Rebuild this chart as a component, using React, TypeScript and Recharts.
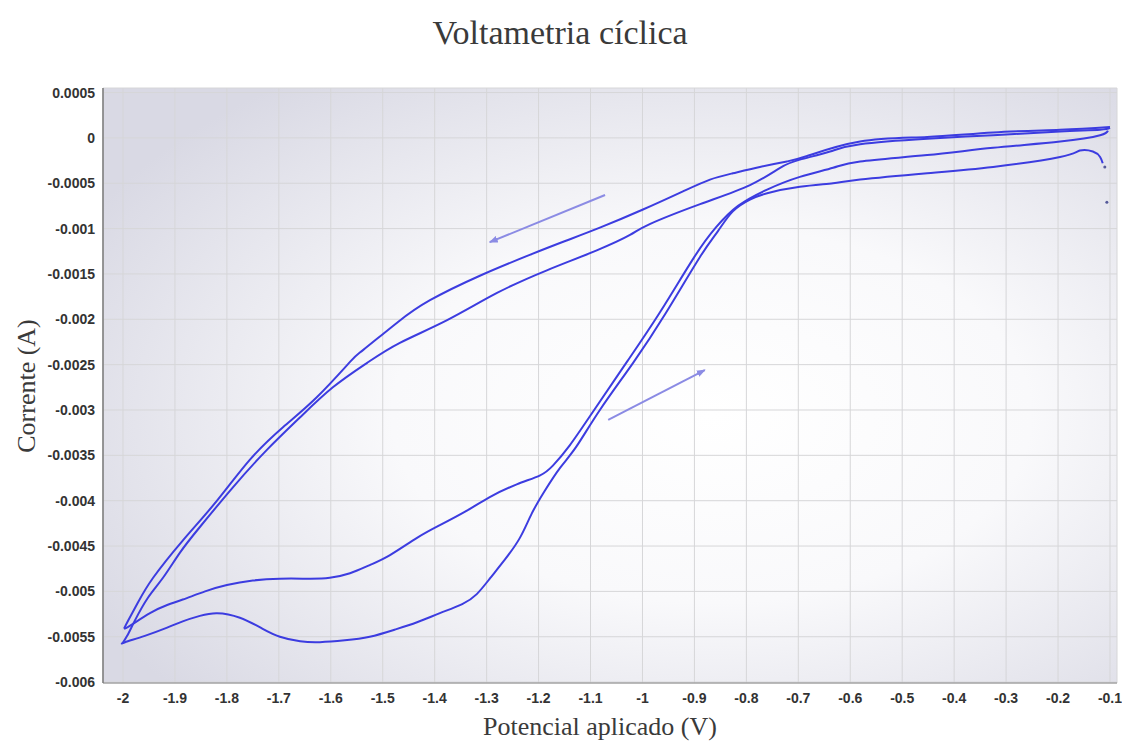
import { LineChart, Line, XAxis, YAxis, CartesianGrid, ReferenceLine } from 'recharts';

const FONT_TICK = "'Liberation Sans', Arial, sans-serif";
const FONT_SERIF = "'Liberation Serif', 'Times New Roman', serif";
const CURVE = '#3c3ce0';
const ARROW = '#8b8be4';

const X_DOMAIN: [number, number] = [-2.0385, -0.0865];
const Y_DOMAIN: [number, number] = [-0.00601, 0.00055];

const xTicks = [-2, -1.9, -1.8, -1.7, -1.6, -1.5, -1.4, -1.3, -1.2, -1.1, -1, -0.9, -0.8, -0.7, -0.6, -0.5, -0.4, -0.3, -0.2, -0.1];
const yTicks = [0.0005, 0, -0.0005, -0.001, -0.0015, -0.002, -0.0025, -0.003, -0.0035, -0.004, -0.0045, -0.005, -0.0055, -0.006];

// minor tick marks only (axis decoration)
const xMinorTicks = Array.from({ length: 195 }, (_, k) => Math.round((-2.03 + k * 0.01) * 100) / 100);
const yMinorTicks = Array.from({ length: 66 }, (_, k) => Math.round((-0.006 + k * 0.0001) * 1e5) / 1e5);

// cycle 1, sweep towards -2 V (lower path, big reduction wave)
const cycle1Forward = [
  { v: -0.114, i: -0.00028 }, { v: -0.119, i: -0.00021 }, { v: -0.133, i: -0.00015 }, { v: -0.158, i: -0.00014 },
  { v: -0.196, i: -0.00021 }, { v: -0.325, i: -0.00032 }, { v: -0.452, i: -0.00039 }, { v: -0.581, i: -0.00046 },
  { v: -0.633, i: -0.0005 }, { v: -0.697, i: -0.00054 }, { v: -0.76, i: -0.00061 }, { v: -0.793, i: -0.00068 },
  { v: -0.826, i: -0.00081 }, { v: -0.855, i: -0.00103 }, { v: -0.889, i: -0.00131 }, { v: -0.955, i: -0.00193 },
  { v: -1.018, i: -0.00248 }, { v: -1.082, i: -0.003 }, { v: -1.128, i: -0.00341 }, { v: -1.159, i: -0.00364 },
  { v: -1.188, i: -0.00389 }, { v: -1.213, i: -0.00414 }, { v: -1.236, i: -0.00441 }, { v: -1.265, i: -0.00465 },
  { v: -1.294, i: -0.00486 }, { v: -1.319, i: -0.00503 }, { v: -1.347, i: -0.00514 }, { v: -1.39, i: -0.00524 },
  { v: -1.434, i: -0.00534 }, { v: -1.476, i: -0.00542 }, { v: -1.525, i: -0.0055 }, { v: -1.573, i: -0.00554 },
  { v: -1.621, i: -0.00556 }, { v: -1.659, i: -0.00555 }, { v: -1.698, i: -0.0055 }, { v: -1.732, i: -0.00541 },
  { v: -1.775, i: -0.00529 }, { v: -1.819, i: -0.00524 }, { v: -1.852, i: -0.00527 }, { v: -1.885, i: -0.00533 },
  { v: -1.915, i: -0.0054 }, { v: -1.958, i: -0.00549 }, { v: -1.996, i: -0.00556 }, { v: -2.002, i: -0.00558 },
];

// cycle 1, sweep back to -0.1 V (inner upper branch)
const cycle1Back = [
  { v: -2.002, i: -0.00558 }, { v: -1.992, i: -0.00549 }, { v: -1.977, i: -0.00532 }, { v: -1.952, i: -0.00507 },
  { v: -1.923, i: -0.00485 }, { v: -1.89, i: -0.00457 }, { v: -1.852, i: -0.00429 }, { v: -1.788, i: -0.00385 },
  { v: -1.723, i: -0.00344 }, { v: -1.659, i: -0.00308 }, { v: -1.596, i: -0.00275 }, { v: -1.53, i: -0.00248 },
  { v: -1.467, i: -0.00226 }, { v: -1.376, i: -0.00201 }, { v: -1.28, i: -0.00171 }, { v: -1.184, i: -0.00146 },
  { v: -1.088, i: -0.00124 }, { v: -1.024, i: -0.00107 }, { v: -0.986, i: -0.00095 }, { v: -0.889, i: -0.00073 },
  { v: -0.793, i: -0.00052 }, { v: -0.735, i: -0.00033 }, { v: -0.697, i: -0.00024 }, { v: -0.639, i: -0.00015 },
  { v: -0.581, i: -0.00007 }, { v: -0.452, i: -0.00001 }, { v: -0.325, i: 0.00003 }, { v: -0.196, i: 0.00007 },
  { v: -0.119, i: 0.00009 }, { v: -0.1, i: 0.00011 },
];

// cycle 2, sweep towards -2 V (outer upper branch)
const cycle2Forward = [
  { v: -0.1, i: 0.00012 }, { v: -0.196, i: 0.00009 }, { v: -0.325, i: 0.00006 }, { v: -0.452, i: 0.00001 },
  { v: -0.581, i: -0.00004 }, { v: -0.683, i: -0.0002 }, { v: -0.722, i: -0.00026 }, { v: -0.774, i: -0.00032 },
  { v: -0.826, i: -0.00039 }, { v: -0.87, i: -0.00046 }, { v: -0.922, i: -0.00059 }, { v: -0.999, i: -0.00079 },
  { v: -1.082, i: -0.00099 }, { v: -1.15, i: -0.00114 }, { v: -1.217, i: -0.00129 }, { v: -1.313, i: -0.00152 },
  { v: -1.409, i: -0.00179 }, { v: -1.473, i: -0.00204 }, { v: -1.538, i: -0.00234 }, { v: -1.563, i: -0.00247 },
  { v: -1.627, i: -0.00286 }, { v: -1.692, i: -0.00319 }, { v: -1.756, i: -0.00355 }, { v: -1.819, i: -0.004 },
  { v: -1.885, i: -0.00444 }, { v: -1.942, i: -0.00485 }, { v: -1.971, i: -0.00512 }, { v: -1.99, i: -0.00532 },
  { v: -1.998, i: -0.00541 },
];

// cycle 2, sweep back to -0.1 V (smaller wave, then steep rise)
const cycle2Back = [
  { v: -1.998, i: -0.00541 }, { v: -1.987, i: -0.00538 }, { v: -1.948, i: -0.00524 }, { v: -1.915, i: -0.00515 },
  { v: -1.885, i: -0.00509 }, { v: -1.842, i: -0.005 }, { v: -1.8, i: -0.00493 }, { v: -1.75, i: -0.00488 },
  { v: -1.698, i: -0.00486 }, { v: -1.64, i: -0.00486 }, { v: -1.602, i: -0.00485 }, { v: -1.563, i: -0.0048 },
  { v: -1.525, i: -0.00471 }, { v: -1.486, i: -0.0046 }, { v: -1.434, i: -0.00441 }, { v: -1.39, i: -0.00427 },
  { v: -1.338, i: -0.00411 }, { v: -1.294, i: -0.00396 }, { v: -1.242, i: -0.00382 }, { v: -1.197, i: -0.00372 },
  { v: -1.172, i: -0.00361 }, { v: -1.14, i: -0.00339 }, { v: -1.093, i: -0.003 }, { v: -1.03, i: -0.00247 },
  { v: -0.966, i: -0.00192 }, { v: -0.901, i: -0.00132 }, { v: -0.859, i: -0.00099 }, { v: -0.816, i: -0.00075 },
  { v: -0.76, i: -0.00057 }, { v: -0.697, i: -0.00043 }, { v: -0.633, i: -0.00033 }, { v: -0.581, i: -0.00026 },
  { v: -0.452, i: -0.00019 }, { v: -0.325, i: -0.00011 }, { v: -0.196, i: -0.00004 }, { v: -0.119, i: 0.00003 },
  { v: -0.104, i: 0.00008 },
];

// first isolated samples at the start of the scan
const startSamples = [
  { v: -0.11, i: -0.00032 },
  { v: -0.106, i: -0.00071 },
];

// scan direction arrows (data coordinates)
const arrows = [
  { from: { x: -1.072, y: -0.00063 }, to: { x: -1.294, y: -0.00115 } },
  { from: { x: -1.066, y: -0.00311 }, to: { x: -0.88, y: -0.00256 } },
];

const cycles = [cycle1Forward, cycle1Back, cycle2Forward, cycle2Back];

const tickStyle = { fontSize: 14, fill: '#333', fontWeight: 'bold' as const, fontFamily: FONT_TICK };

const ArrowShape = (p: any) => (
  <line x1={p.x1} y1={p.y1} x2={p.x2} y2={p.y2} stroke={ARROW} strokeWidth={2} markerEnd="url(#arrowHead)" />
);

export default function App() {
  return (
    <div style={{ position: 'absolute', left: 0, top: 0, width: 1122, height: 746, background: '#fff' }}>
      <div
        style={{
          position: 'absolute', left: 560, top: 33, transform: 'translate(-50%, -50%)',
          fontFamily: FONT_SERIF, fontSize: 34, color: '#3a3a3a', whiteSpace: 'nowrap', lineHeight: 1,
        }}
      >
        Voltametria cíclica
      </div>
      <div
        style={{
          position: 'absolute', left: 600, top: 727, transform: 'translate(-50%, -50%)',
          fontFamily: FONT_SERIF, fontSize: 26, color: '#3a3a3a', whiteSpace: 'nowrap', lineHeight: 1,
        }}
      >
        Potencial aplicado (V)
      </div>
      <div
        style={{
          position: 'absolute', left: 27, top: 386, transform: 'translate(-50%, -50%) rotate(-90deg)',
          fontFamily: FONT_SERIF, fontSize: 26, color: '#3a3a3a', whiteSpace: 'nowrap', lineHeight: 1,
        }}
      >
        Corrente (A)
      </div>

      <LineChart width={1122} height={746} margin={{ top: 88, right: 5, bottom: 33, left: 43 }}>
        <defs>
          <radialGradient id="plotBg" cx="0.6" cy="0.55" r="0.7">
            <stop offset="0" stopColor="#ffffff" />
            <stop offset="0.45" stopColor="#f9f9fb" />
            <stop offset="1" stopColor="#d9d9e4" />
          </radialGradient>
          <marker id="arrowHead" markerWidth="9" markerHeight="7" refX="8" refY="3.5" orient="auto" markerUnits="userSpaceOnUse">
            <path d="M0,0 L9,3.5 L0,7 z" fill={ARROW} />
          </marker>
        </defs>
        <CartesianGrid stroke="#d6d6d8" fill="url(#plotBg)" />

        <XAxis
          dataKey="v" type="number" domain={X_DOMAIN} allowDataOverflow ticks={xTicks} interval={0}
          height={30} tickLine={false} tickSize={0} tickMargin={10}
          axisLine={{ stroke: '#8a8a8a' }} tick={tickStyle} tickFormatter={(v) => String(v)}
        />
        <XAxis xAxisId="bMinor" dataKey="v" type="number" domain={X_DOMAIN} allowDataOverflow ticks={xMinorTicks}
          interval={0} mirror height={0} tick={false} tickSize={3} tickLine={{ stroke: '#8a8a8a' }} axisLine={false} />
        <XAxis xAxisId="bMajor" dataKey="v" type="number" domain={X_DOMAIN} allowDataOverflow ticks={xTicks}
          interval={0} mirror height={0} tick={false} tickSize={6} tickLine={{ stroke: '#777' }} axisLine={false} />
        <XAxis xAxisId="tMinor" orientation="top" dataKey="v" type="number" domain={X_DOMAIN} allowDataOverflow
          ticks={xMinorTicks} interval={0} mirror height={0} tick={false} tickSize={3}
          tickLine={{ stroke: '#8a8a8a' }} axisLine={{ stroke: '#7a7a7a', strokeWidth: 1.5 }} />
        <XAxis xAxisId="tMajor" orientation="top" dataKey="v" type="number" domain={X_DOMAIN} allowDataOverflow
          ticks={xTicks} interval={0} mirror height={0} tick={false} tickSize={6} tickLine={{ stroke: '#777' }} axisLine={false} />

        <YAxis
          type="number" domain={Y_DOMAIN} allowDataOverflow ticks={yTicks} interval={0}
          width={60} tickLine={false} tickSize={0} tickMargin={8}
          axisLine={{ stroke: '#7a7a7a', strokeWidth: 1.5 }} tick={tickStyle} tickFormatter={(v) => String(v)}
        />
        <YAxis yAxisId="lMinor" type="number" domain={Y_DOMAIN} allowDataOverflow ticks={yMinorTicks} interval={0}
          mirror width={0} tick={false} tickSize={3} tickLine={{ stroke: '#8a8a8a' }} axisLine={false} />
        <YAxis yAxisId="lMajor" type="number" domain={Y_DOMAIN} allowDataOverflow ticks={yTicks} interval={0}
          mirror width={0} tick={false} tickSize={6} tickLine={{ stroke: '#777' }} axisLine={false} />

        {cycles.map((seg, idx) => (
          <Line
            key={`cycle-${idx}`}
            data={seg}
            dataKey="i"
            type="natural"
            stroke={CURVE}
            strokeWidth={2}
            dot={false}
            isAnimationActive={false}
          />
        ))}
        <Line
          data={startSamples}
          dataKey="i"
          stroke="none"
          dot={{ r: 1.5, fill: '#555a9a', stroke: 'none' }}
          isAnimationActive={false}
        />

        {arrows.map((a, idx) => (
          <ReferenceLine key={`arrow-${idx}`} segment={[a.from, a.to]} shape={ArrowShape} ifOverflow="visible" />
        ))}
      </LineChart>
    </div>
  );
}
